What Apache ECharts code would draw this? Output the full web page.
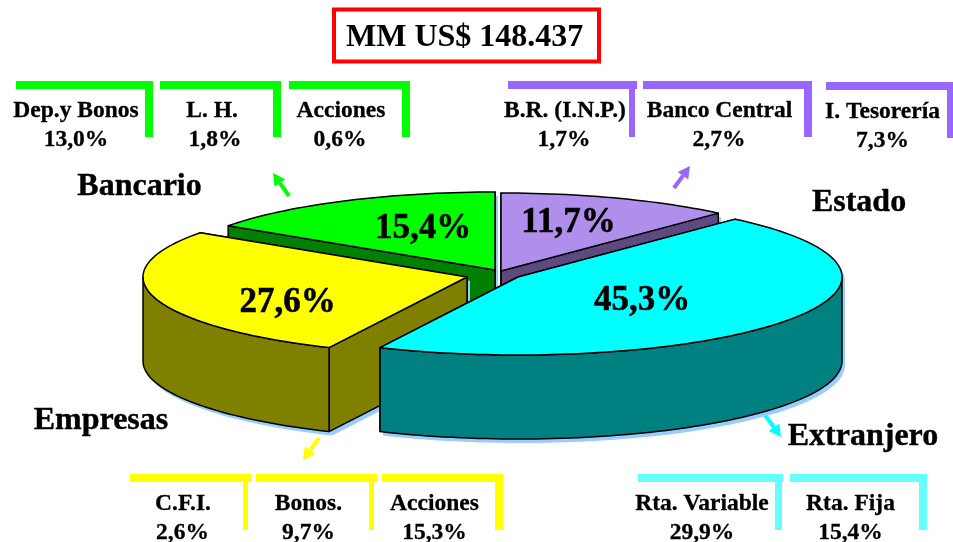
<!DOCTYPE html>
<html>
<head>
<meta charset="utf-8">
<style>html,body{margin:0;padding:0;background:#fff}#c{width:953px;height:542px}</style>
<script src="https://cdn.jsdelivr.net/npm/echarts@6/dist/echarts.min.js"></script>
</head>
<body>
<div id="c"></div>
<script>
// ---- data ----
var titleText = 'MM US$ 148.437';
var sectors = ['Estado', 'Extranjero', 'Empresas', 'Bancario'];
var sectorShares = [11.7, 45.3, 27.6, 15.4];
var bancarioLabels = ['Dep.y Bonos', 'L. H.', 'Acciones'];
var bancarioShares = [13.0, 1.8, 0.6];
var estadoLabels = ['B.R. (I.N.P.)', 'Banco Central', 'I. Tesorería'];
var estadoShares = [1.7, 2.7, 7.3];
var empresasLabels = ['C.F.I.', 'Bonos.', 'Acciones'];
var empresasShares = [2.6, 9.7, 15.3];
var extranjeroLabels = ['Rta. Variable', 'Rta. Fija'];
var extranjeroShares = [29.9, 15.4];

// ---- layout / style ----
var FONT = '"Liberation Serif","Times New Roman",serif';
var RX = 324, RY = 78, DEPTH = 84;
var SHADOW = '#99CCFF', SHADOW_DX = 3, SHADOW_DY = 4;
var sliceStyle = {
  Estado:     {c: [501, 271], top: '#B08EEC', side: '#5E4A80', rank: 1, lab: [568.5, 223], name: [859, 203]},
  Extranjero: {c: [518, 277], top: '#00FFFF', side: '#008080', rank: 3, lab: [642, 301], name: [863, 437]},
  Empresas:   {c: [467, 277], top: '#FFFF00', side: '#808000', rank: 2, lab: [287.5, 303], name: [101, 421]},
  Bancario:   {c: [495, 270], top: '#00FF00', side: '#008000', rank: 0, lab: [423, 229], name: [139.5, 187]}
};
var groups = [
  {labels: bancarioLabels, shares: bancarioShares, color: '#00FF00', y: 81, ty: [111, 140], boxes: [
    {x0: 16, x1: 153, rx: 145, rw: 8, cx: 76, vx: 76}, {x0: 160, x1: 281, rx: 273, rw: 8, cx: 212, vx: 215}, {x0: 289, x1: 410, rx: 402, rw: 8, cx: 341, vx: 340}]},
  {labels: estadoLabels, shares: estadoShares, color: '#9966FF', y: 81, ty: [111, 140], boxes: [
    {x0: 508, x1: 637, rx: 629, rw: 6, cx: 565, vx: 564}, {x0: 643, x1: 812, rx: 804, rw: 8, cx: 719.5, vx: 719}, {x0: 826, x1: 953, rx: 947, rw: 6, cx: 882.5, vx: 882.5, dy: 1}]},
  {labels: empresasLabels, shares: empresasShares, color: '#FFFF00', y: 474, ty: [504, 533], boxes: [
    {x0: 130, x1: 251, rx: 243, rw: 5, cx: 183, vx: 182.5}, {x0: 256, x1: 377, rx: 369, rw: 5, cx: 308.5, vx: 308.5}, {x0: 382, x1: 503, rx: 495, rw: 8, cx: 434.5, vx: 434.5}]},
  {labels: extranjeroLabels, shares: extranjeroShares, color: '#66FFFF', y: 474, ty: [504, 533], boxes: [
    {x0: 638, x1: 783, rx: 775, rw: 7, cx: 702, vx: 702}, {x0: 790, x1: 927, rx: 919, rw: 8, cx: 850.5, vx: 850.5}]}
];
var arrows = [
  {from: [289, 196], to: [273, 173], color: '#00FF00'},
  {from: [674, 188], to: [690, 166], color: '#9966FF'},
  {from: [319, 438], to: [303, 460], color: '#FFFF00'},
  {from: [765, 415], to: [781, 437], color: '#00FFFF'}
];
function pct(v) { return v.toFixed(1).replace('.', ',') + '%'; }

// ---- projected pie geometry ----
function rim(c, deg) {
  var a = deg * Math.PI / 180;
  return [c[0] + RX * Math.sin(a), c[1] - RY * Math.cos(a)];
}
function arcPoints(c, a0, a1) {
  var pts = [], n = Math.max(2, Math.ceil((a1 - a0) / 1.5));
  for (var i = 0; i <= n; i++) pts.push(rim(c, a0 + (a1 - a0) * i / n));
  return pts;
}
function down(p) { return [p[0], p[1] + DEPTH]; }
function shift(pts) { return pts.map(function (p) { return [p[0] + SHADOW_DX, p[1] + SHADOW_DY]; }); }

var total = sectorShares.reduce(function (a, b) { return a + b; }, 0);
var startShare = [];
sectorShares.reduce(function (acc, v, i) { startShare[i] = acc; return acc + v; }, 0);

function renderSlice(params, api) {
  var i = params.dataIndex;
  var s = sliceStyle[sectors[i]];
  var a0 = startShare[i] / total * 360;
  var a1 = a0 + api.value(0) / total * 360;
  var c = s.c, base = s.rank * 100;
  var top = [c].concat(arcPoints(c, a0, a1));
  var pA = rim(c, a0), pB = rim(c, a1);
  var cutA = [c, pA, down(pA), down(c)];
  var cutB = [c, pB, down(pB), down(c)];
  var wLo = Math.max(a0, 90), wHi = Math.min(a1, 270), wall = null;
  if (wHi > wLo) {
    var arc = arcPoints(c, wLo, wHi);
    wall = arc.concat(arc.slice().reverse().map(down));
  }
  function poly(pts, fill, z, noLine) {
    return {type: 'polygon', z2: base + z, silent: true, shape: {points: pts},
      style: noLine ? {fill: fill} : {fill: fill, stroke: '#000', lineWidth: 1.5, lineJoin: 'round'}};
  }
  var kids = [
    poly(shift(cutA), SHADOW, 0, true), poly(shift(cutB), SHADOW, 0, true), poly(shift(top), SHADOW, 0, true)
  ];
  if (wall) kids.push(poly(shift(wall), SHADOW, 0, true));
  kids.push(poly(cutB, s.side, 1), poly(cutA, s.side, 2));
  if (wall) kids.push(poly(wall, s.side, 3));
  kids.push(poly(top, s.top, 4));
  kids.push({type: 'text', z2: 1000, silent: true, style: {
    x: s.lab[0], y: s.lab[1], text: pct(api.value(0)), fill: '#000', stroke: '#000', lineWidth: 0.5,
    font: 'bold 35px ' + FONT, align: 'center', verticalAlign: 'middle'}});
  kids.push({type: 'text', z2: 1000, silent: true, style: {
    x: s.name[0], y: s.name[1], text: sectors[i], fill: '#000', stroke: '#000', lineWidth: 0.4,
    font: 'bold 32px ' + FONT, align: 'center', verticalAlign: 'middle'}});
  return {type: 'group', children: kids};
}

// ---- annotation furniture: brackets, sub-labels, arrows ----
var graphics = [];
groups.forEach(function (g) {
  g.boxes.forEach(function (b, i) {
    var dy = b.dy || 0, y = g.y + dy;
    graphics.push({type: 'rect', silent: true, shape: {x: b.x0, y: y, width: b.x1 - b.x0, height: 8}, style: {fill: g.color}});
    graphics.push({type: 'rect', silent: true, shape: {x: b.rx, y: y, width: b.rw, height: 56}, style: {fill: g.color}});
    graphics.push({type: 'text', silent: true, z: 5, style: {x: b.cx, y: g.ty[0] + dy, text: g.labels[i], fill: '#000', stroke: '#000', lineWidth: 0.3,
      font: 'bold 23.5px ' + FONT, align: 'center', verticalAlign: 'middle'}});
    graphics.push({type: 'text', silent: true, z: 5, style: {x: b.vx, y: g.ty[1] + dy, text: pct(g.shares[i]), fill: '#000', stroke: '#000', lineWidth: 0.3,
      font: 'bold 23.5px ' + FONT, align: 'center', verticalAlign: 'middle'}});
  });
});
arrows.forEach(function (a) {
  var dx = a.to[0] - a.from[0], dy = a.to[1] - a.from[1], len = Math.sqrt(dx * dx + dy * dy);
  var ux = dx / len, uy = dy / len, head = 12, hw = 6.5;
  var bx = a.to[0] - ux * head, by = a.to[1] - uy * head;
  graphics.push({type: 'line', silent: true, shape: {x1: a.from[0], y1: a.from[1], x2: bx, y2: by}, style: {stroke: a.color, lineWidth: 4}});
  graphics.push({type: 'polygon', silent: true, shape: {points: [a.to, [bx - uy * hw, by + ux * hw], [bx + uy * hw, by - ux * hw]]}, style: {fill: a.color}});
});

var chart = echarts.init(document.getElementById('c'), null, {renderer: 'canvas'});
chart.setOption({
  animation: false,
  backgroundColor: '#fff',
  title: {
    text: titleText, left: 334, top: 9.5, padding: [12, 16, 8, 12],
    borderColor: '#FF0000', borderWidth: 4,
    textStyle: {fontFamily: FONT, fontWeight: 'bold', fontSize: 32, color: '#000', lineHeight: 32}
  },
  tooltip: {show: false},
  graphic: graphics,
  series: [{
    type: 'custom',
    coordinateSystem: 'none',
    renderItem: renderSlice,
    clip: false,
    silent: true,
    data: sectorShares.map(function (v, i) { return {name: sectors[i], value: [v]}; })
  }]
});
</script>
</body>
</html>
